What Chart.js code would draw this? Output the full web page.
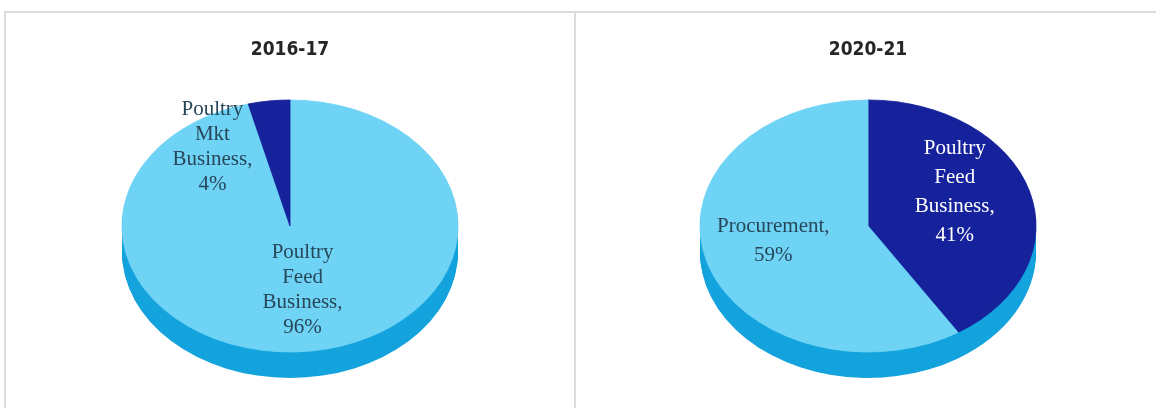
<!DOCTYPE html>
<html lang="en">
<head>
  <meta charset="UTF-8">
  <title>Business share 2016-17 vs 2020-21</title>
  <script src="https://cdn.jsdelivr.net/npm/chart.js"></script>
  <style>
    body {
      margin: 0;
      background: #fff;
      width: 1156px;
      height: 408px;
      overflow: hidden;
    }
    .wrap {
      position: absolute;
      left: 4px;
      top: 11px;
      width: 1152px;
      height: 397px;
      border-top: 2px solid #dcdcdc;
      border-left: 2px solid #dcdcdc;
      display: flex;
    }
    .panel {
      position: relative;
      height: 395px;
    }
    #p1 {
      width: 568px;
      border-right: 2px solid #dcdcdc;
    }
    #p2 {
      width: 580px;
    }
  </style>
</head>
<body>
  <div class="wrap">
    <div class="panel" id="p1"><canvas id="chart1"></canvas></div>
    <div class="panel" id="p2"><canvas id="chart2"></canvas></div>
  </div>

  <script>
    // data
    const years = ["2016-17", "2020-21"];
    const labels1 = ["Poultry Feed Business", "Poultry Mkt Business"];
    const values1 = [96, 4];
    const labels2 = ["Poultry Feed Business", "Procurement"];
    const values2 = [41, 59];

    const LIGHT = "#6fd3f5";
    const DARK = "#16229b";
    const SIDE = "#14a3dd";

    // fake 3D pie: squash the arcs into an ellipse and add a side band under them
    const pie3d = {
      id: "pie3d",
      beforeDatasetsDraw(chart, args, opts) {
        const ctx = chart.ctx;
        const arcs = chart.getDatasetMeta(0).data;
        const cx = arcs[0].x, cy = arcs[0].y;
        ctx.save();
        ctx.fillStyle = opts.sideColor;
        for (let d = opts.depth; d > 0; d--) {
          arcs.forEach(a => {
            ctx.beginPath();
            ctx.moveTo(cx, opts.centerY + d);
            ctx.ellipse(cx, opts.centerY + d, a.outerRadius, a.outerRadius * opts.tilt, 0, a.startAngle, a.endAngle);
            ctx.closePath();
            ctx.fill();
          });
        }
        ctx.translate(0, opts.centerY);
        ctx.scale(1, opts.tilt);
        ctx.translate(0, -cy);
      },
      afterDatasetsDraw(chart, args, opts) {
        const ctx = chart.ctx;
        ctx.restore();
        const arcs = chart.getDatasetMeta(0).data;
        const ds = chart.data.datasets[0];
        ctx.save();
        ctx.font = opts.font;
        ctx.textAlign = "center";
        ctx.textBaseline = "middle";
        arcs.forEach((a, i) => {
          const mid = (a.startAngle + a.endAngle) / 2;
          const x = a.x + opts.labelRadius * a.outerRadius * Math.cos(mid) + opts.nudge[i][0];
          const y = opts.centerY + opts.labelRadius * a.outerRadius * opts.tilt * Math.sin(mid) + opts.nudge[i][1];
          const words = (chart.data.labels[i] + ", " + ds.data[i] + "%").split(" ");
          const lines = [];
          let cur = "";
          words.forEach(w => {
            const test = cur ? cur + " " + w : w;
            if (cur && ctx.measureText(test).width > opts.wrapWidth) {
              lines.push(cur);
              cur = w;
            } else {
              cur = test;
            }
          });
          lines.push(cur);
          ctx.fillStyle = opts.textColors[i];
          const top = y - (lines.length - 1) * opts.lineHeight / 2;
          lines.forEach((l, j) => ctx.fillText(l, x, top + j * opts.lineHeight));
        });
        ctx.restore();
      }
    };

    function makePie(id, title, labels, values, colors, textColors, nudge, lineHeight, padLeft) {
      return new Chart(document.getElementById(id), {
        type: "pie",
        data: {
          labels: labels,
          datasets: [{
            data: values,
            backgroundColor: colors,
            borderColor: colors,
            borderWidth: 1,
            radius: 168
          }]
        },
        options: {
          responsive: true,
          maintainAspectRatio: false,
          animation: false,
          events: [],
          layout: { padding: { left: padLeft, bottom: 40 } },
          plugins: {
            legend: { display: false },
            tooltip: { enabled: false },
            title: {
              display: true,
              text: title,
              color: "#262626",
              font: { family: "'DejaVu Sans Condensed', 'DejaVu Sans'", size: 19, weight: "bold" },
              padding: { top: 26, bottom: 0 }
            },
            pie3d: {
              centerY: 213,
              tilt: 0.75,
              depth: 26,
              sideColor: SIDE,
              labelRadius: 0.55,
              font: "21px 'Liberation Serif', 'Times New Roman', serif",
              wrapWidth: 95,
              lineHeight: lineHeight,
              textColors: textColors,
              nudge: nudge
            }
          }
        },
        plugins: [pie3d]
      });
    }

    makePie("chart1", years[0], labels1, values1, [LIGHT, DARK], ["#27475a", "#27475a"],
      [[1, -5], [-66, -10]], 25, 0);
    makePie("chart2", years[1], labels2, values2, [DARK, LIGHT], ["#ffffff", "#27475a"],
      [[-2, -15], [-6, -4]], 29, 4);
  </script>
</body>
</html>
